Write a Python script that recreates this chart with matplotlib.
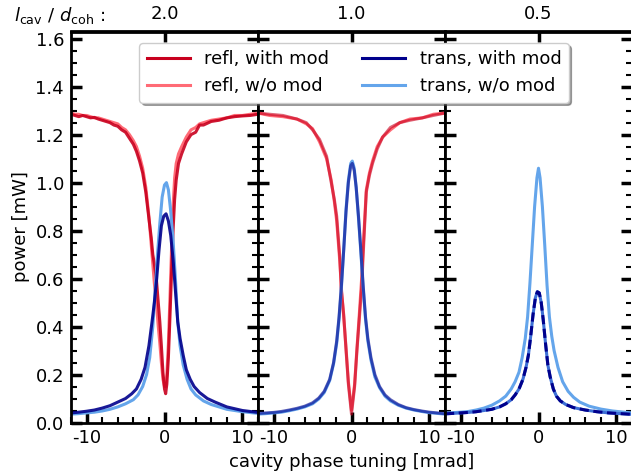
import numpy as np
import matplotlib
matplotlib.use("Agg")
import matplotlib.pyplot as plt
from matplotlib.ticker import MultipleLocator
from matplotlib.lines import Line2D

plt.rcParams["axes.unicode_minus"] = False
plt.rcParams["font.size"] = 13

# ---- data ----
ratios = ["2.0", "1.0", "0.5"]
labels = ["refl, with mod", "refl, w/o mod", "trans, with mod", "trans, w/o mod"]

# panel 1 (l_cav/d_coh = 2.0)
p1_refl_x = [-12, -11.5, -11, -10.5, -10, -9.5, -9, -8.5, -8, -7.5, -7, -6.5, -6, -5.5, -5,
             -4.5, -4, -3.6, -3.2, -2.8, -2.4, -2.0, -1.7, -1.5, -1.3, -1.05, -0.8, -0.6,
             -0.4, -0.2, 0.0, 0.15, 0.3, 0.5, 0.7, 0.9, 1.1, 1.3, 1.5, 1.8, 2.2, 2.8, 3.4,
             4, 4.5, 5, 6, 7, 8, 9, 10, 11, 12]
p1_refl_mod = [1.285, 1.28, 1.275, 1.28, 1.275, 1.27, 1.272, 1.265, 1.26, 1.255, 1.25, 1.24,
               1.235, 1.22, 1.21, 1.185, 1.16, 1.13, 1.09, 1.04, 0.96, 0.85, 0.77, 0.70,
               0.66, 0.6, 0.5, 0.42, 0.32, 0.21, 0.14, 0.12, 0.16, 0.27, 0.44, 0.62, 0.8,
               0.93, 1.01, 1.08, 1.12, 1.17, 1.2, 1.21, 1.24, 1.24, 1.255, 1.26, 1.27,
               1.275, 1.278, 1.28, 1.285]
p1_refl_wo = [1.29, 1.285, 1.285, 1.28, 1.28, 1.275, 1.27, 1.27, 1.265, 1.26, 1.255, 1.25,
              1.245, 1.23, 1.22, 1.2, 1.175, 1.15, 1.11, 1.06, 0.98, 0.86, 0.74, 0.66, 0.58,
              0.5, 0.4, 0.33, 0.25, 0.18, 0.15, 0.15, 0.2, 0.33, 0.52, 0.72, 0.9, 1.02, 1.08,
              1.12, 1.15, 1.19, 1.22, 1.23, 1.245, 1.25, 1.26, 1.265, 1.27, 1.28, 1.28,
              1.285, 1.29]
p1_mod_x = [-12, -11, -10, -9, -8, -7, -6, -5, -4.2, -3.6, -3, -2.5, -2, -1.6, -1.3, -1.0,
            -0.7, -0.4, -0.1, 0.2, 0.5, 0.8, 1.1, 1.4, 1.7, 2.0, 2.4, 2.8, 3.3, 3.8, 4.5,
            5.5, 6.5, 8, 10, 12]
p1_trans_mod = [0.04, 0.043, 0.047, 0.052, 0.06, 0.07, 0.085, 0.1, 0.12, 0.14, 0.18, 0.23,
                0.32, 0.42, 0.5, 0.6, 0.72, 0.82, 0.86, 0.87, 0.84, 0.78, 0.68, 0.55, 0.42,
                0.35, 0.28, 0.22, 0.18, 0.15, 0.125, 0.1, 0.085, 0.065, 0.05, 0.042]
p1_wo_x = [-12, -11, -10, -9, -8, -7, -6, -5, -4, -3.4, -2.8, -2.3, -1.9, -1.5, -1.2, -0.9,
           -0.6, -0.3, 0, 0.25, 0.5, 0.8, 1.1, 1.4, 1.7, 2.0, 2.4, 2.9, 3.4, 4, 5, 6, 7, 8,
           10, 12]
p1_trans_wo = [0.035, 0.037, 0.04, 0.043, 0.048, 0.055, 0.065, 0.078, 0.095, 0.115, 0.15,
               0.2, 0.27, 0.4, 0.55, 0.7, 0.83, 0.94, 0.99, 1.0, 0.97, 0.88, 0.76, 0.6, 0.42,
               0.32, 0.24, 0.18, 0.14, 0.115, 0.09, 0.075, 0.065, 0.055, 0.045, 0.038]

# panel 2 (l_cav/d_coh = 1.0)
p2_refl_x = [-12, -10.5, -8.8, -7, -5.8, -5, -4.1, -3.2, -2.6, -2.2, -1.9, -1.5, -1.3, -1.0,
             -0.7, -0.4, 0, 0.4, 0.7, 1.0, 1.3, 1.5, 1.7, 1.9, 2.3, 2.7, 3.3, 4, 5, 6.2, 7.5,
             9.1, 10.5, 12]
p2_refl_mod = [1.29, 1.285, 1.28, 1.265, 1.25, 1.22, 1.18, 1.11, 1.0, 0.93, 0.86, 0.69, 0.55,
               0.45, 0.3, 0.16, 0.035, 0.15, 0.3, 0.43, 0.56, 0.7, 0.83, 0.96, 1.03, 1.08,
               1.14, 1.19, 1.23, 1.25, 1.26, 1.27, 1.28, 1.29]
p2_refl_wo = [1.29, 1.28, 1.275, 1.265, 1.245, 1.225, 1.17, 1.1, 1.01, 0.92, 0.84, 0.67, 0.56,
              0.44, 0.31, 0.17, 0.05, 0.16, 0.31, 0.45, 0.6, 0.73, 0.85, 0.97, 1.04, 1.09,
              1.15, 1.19, 1.22, 1.25, 1.265, 1.27, 1.285, 1.29]
p2_trans_x = [-12, -11, -10, -9, -8, -7, -6, -5, -4.2, -3.5, -2.8, -2.3, -1.9, -1.6, -1.3,
              -1.0, -0.7, -0.4, -0.1, 0.1, 0.35, 0.6, 0.9, 1.2, 1.5, 1.8, 2.1, 2.5, 3, 3.6,
              4.3, 5, 6, 7, 8, 9, 10, 11, 12]
p2_trans_mod = [0.038, 0.04, 0.042, 0.046, 0.052, 0.059, 0.068, 0.082, 0.102, 0.13, 0.18,
                0.25, 0.34, 0.44, 0.57, 0.72, 0.88, 1.0, 1.07, 1.08, 1.05, 0.98, 0.86, 0.72,
                0.57, 0.44, 0.35, 0.27, 0.2, 0.15, 0.115, 0.095, 0.075, 0.062, 0.054, 0.048,
                0.043, 0.04, 0.037]
p2_trans_wo = [0.035, 0.037, 0.04, 0.043, 0.049, 0.056, 0.065, 0.078, 0.098, 0.125, 0.175,
               0.245, 0.33, 0.43, 0.56, 0.72, 0.89, 1.01, 1.08, 1.09, 1.06, 0.98, 0.85, 0.71,
               0.56, 0.43, 0.34, 0.26, 0.19, 0.145, 0.11, 0.09, 0.072, 0.06, 0.052, 0.046,
               0.041, 0.038, 0.035]

# panel 3 (l_cav/d_coh = 0.5), transmission only
p3_mod_x = [-12, -11, -10, -9, -8, -7, -6, -5, -4.2, -3.5, -3, -2.5, -2, -1.6, -1.3, -1.0,
            -0.7, -0.4, -0.15, 0.1, 0.35, 0.6, 0.9, 1.2, 1.5, 1.9, 2.3, 2.8, 3.5, 4.5, 6,
            7.5, 9, 10.5, 12]
p3_trans_mod = [0.036, 0.038, 0.04, 0.042, 0.045, 0.05, 0.055, 0.065, 0.078, 0.095, 0.115,
                0.14, 0.18, 0.23, 0.28, 0.36, 0.45, 0.52, 0.545, 0.54, 0.5, 0.43, 0.33, 0.24,
                0.19, 0.14, 0.11, 0.09, 0.075, 0.062, 0.052, 0.045, 0.04, 0.037, 0.034]
p3_wo_x = [-12, -11, -10, -9, -8, -7, -6, -5, -4.2, -3.5, -3, -2.5, -2.1, -1.7, -1.4, -1.1,
           -0.8, -0.5, -0.2, 0, 0.2, 0.5, 0.8, 1.1, 1.4, 1.7, 2.0, 2.5, 3.1, 3.8, 4.5, 5.3,
           6.5, 8, 9.5, 11, 12]
p3_trans_wo = [0.04, 0.041, 0.043, 0.046, 0.052, 0.06, 0.072, 0.09, 0.11, 0.14, 0.17, 0.21,
               0.27, 0.35, 0.44, 0.58, 0.74, 0.9, 1.02, 1.06, 1.02, 0.9, 0.74, 0.57, 0.44,
               0.36, 0.3, 0.23, 0.17, 0.13, 0.105, 0.085, 0.068, 0.056, 0.048, 0.043, 0.04]

c_refl_mod = "#c8001e"
c_refl_wo = "#ff6b76"
c_trans_mod = "#00008c"
c_trans_wo = "#64a5eb"
lw = 2.2

fig = plt.figure(figsize=(6.31, 4.72), dpi=100)
left, bottom, w, h = 71 / 631, 1 - 422.5 / 472, 187 / 631, 391 / 472
axes = [fig.add_axes([left + i * w, bottom, w, h]) for i in range(3)]

# w/o mod curves first, "with mod" on top
ax = axes[0]
ax.plot(p1_refl_x, p1_refl_wo, color=c_refl_wo, lw=lw)
ax.plot(p1_refl_x, p1_refl_mod, color=c_refl_mod, lw=lw, alpha=0.9)
ax.plot(p1_wo_x, p1_trans_wo, color=c_trans_wo, lw=lw)
ax.plot(p1_mod_x, p1_trans_mod, color=c_trans_mod, lw=lw, alpha=0.9)

ax = axes[1]
ax.plot(p2_refl_x, p2_refl_wo, color=c_refl_wo, lw=lw)
ax.plot(p2_refl_x, p2_refl_mod, color=c_refl_mod, lw=lw, alpha=0.6)
ax.plot(p2_trans_x, p2_trans_wo, color=c_trans_wo, lw=lw)
ax.plot(p2_trans_x, p2_trans_mod, color=c_trans_mod, lw=lw, alpha=0.6)

ax = axes[2]
ax.plot(p3_wo_x, p3_trans_wo, color=c_trans_wo, lw=lw)
ax.plot(p3_mod_x, p3_trans_mod, color="#3d6fd6", lw=lw)
ax.plot(p3_mod_x, p3_trans_mod, color=c_trans_mod, lw=lw, dashes=(3, 1.5))

for i, ax in enumerate(axes):
    ax.set_xlim(-12, 12)
    ax.set_ylim(0, 1.63)
    ax.set_axisbelow(True)
    for s in ax.spines.values():
        s.set_linewidth(2)
    ax.xaxis.set_major_locator(MultipleLocator(10))
    ax.xaxis.set_minor_locator(MultipleLocator(2))
    ax.yaxis.set_major_locator(MultipleLocator(0.2))
    ax.yaxis.set_minor_locator(MultipleLocator(0.05))
    ax.tick_params(which="major", direction="in", length=8, width=2.5, left=True,
                   right=True, top=False, bottom=True, pad=5, labelsize=13)
    ax.tick_params(which="minor", direction="in", length=4, width=1.5, left=True,
                   right=True, top=False, bottom=True)
    if i > 0:
        ax.tick_params(labelleft=False)
    else:
        ax.yaxis.set_major_formatter(matplotlib.ticker.FormatStrFormatter("%.1f"))
    sec = ax.secondary_xaxis("top")
    sec.set_xticks([0])
    sec.set_xticklabels([ratios[i]])
    sec.tick_params(direction="in", length=8, width=2.5, pad=6, labelsize=13)
    sec.xaxis.set_minor_locator(matplotlib.ticker.NullLocator())
    sec.spines["top"].set_linewidth(2)

axes[0].set_ylabel("power [mW]", fontsize=13)
axes[1].set_xlabel("cavity phase tuning [mrad]", fontsize=13)
fig.text(60 / 631, 1 - 16 / 472, r"$l_{\rm cav}$ / $d_{\rm coh}$ :", ha="center",
         va="center", fontsize=13)

handles = [Line2D([], [], color=c, lw=lw)
           for c in [c_refl_mod, c_refl_wo, c_trans_mod, c_trans_wo]]
fig.legend(handles, labels, ncol=2, loc="upper center",
           bbox_to_anchor=(354 / 631, 1 - 34 / 472), shadow=True, fancybox=True,
           framealpha=1, fontsize=13, handlelength=2.4, columnspacing=1.8)

fig.savefig("out.png", dpi=100)
